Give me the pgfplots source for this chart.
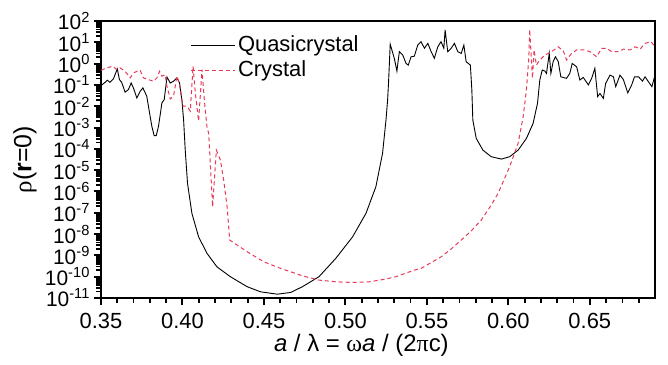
\documentclass[border=0pt]{standalone}
\usepackage{pgfplots}
\pgfplotsset{compat=1.18}
\usepackage{fontspec}
\setmainfont{Liberation Sans}
\newfontfamily\grk{Liberation Serif}
\definecolor{crys}{RGB}{232,58,88}
\gdef\myminor{}
\foreach \e in {-11,...,1}{\foreach \m in {2,...,9}{\xdef\myminor{\myminor\m e\e,}}}
\xdef\myminor{\myminor 9e1}
\begin{document}
\fontsize{11}{13}\selectfont
\begin{tikzpicture}
\begin{axis}[
  scale only axis,
  width=277bp, height=138.5bp,
  xmin=0.35, xmax=0.69,
  ymode=log, ymin=1e-11, ymax=1e2,
  axis line style={line width=1bp},
  tick pos=left,
  tick align=outside,
  xtick={0.35,0.40,0.45,0.50,0.55,0.60,0.65},
  minor xtick={0.36,0.37,0.38,0.39,0.41,0.42,0.43,0.44,0.46,0.47,0.48,0.49,0.51,0.52,0.53,0.54,0.56,0.57,0.58,0.59,0.61,0.62,0.63,0.64,0.66,0.67,0.68},
  minor ytick/.expanded={\myminor},
  major tick length=3.6bp,
  minor tick length=2.3bp,
  every tick/.style={black, line width=1bp},
  every minor tick/.style={black, line width=0.9bp},
  xticklabel style={/pgf/number format/fixed,/pgf/number format/fixed zerofill,/pgf/number format/precision=2,/pgf/number format/assume math mode=true},
  ytick={1e-11,1e-10,1e-9,1e-8,1e-7,1e-6,1e-5,1e-4,1e-3,1e-2,1e-1,1,1e1,1e2},
  yticklabels={10\textsuperscript{-11},10\textsuperscript{-10},10\textsuperscript{-9},10\textsuperscript{-8},10\textsuperscript{-7},10\textsuperscript{-6},10\textsuperscript{-5},10\textsuperscript{-4},10\textsuperscript{-3},10\textsuperscript{-2},10\textsuperscript{-1},10\textsuperscript{0},10\textsuperscript{1},10\textsuperscript{2}},
  yticklabel style={inner xsep=1.5bp, inner ysep=0pt, font=\fontsize{10.5}{11}\selectfont},
  xlabel={\fontsize{12}{14}\selectfont\textit{a} / λ = {\grk ω}\textit{a} / (2{\grk π}c)},
  ylabel={\fontsize{12.5}{14}\selectfont{\grk ρ}(\textbf{r}=0)},
  xlabel style={at={(axis description cs:0.47,-0.17)},anchor=center},
  ylabel style={at={(axis description cs:-0.137,0.5)},anchor=center},
  legend style={at={(0.16,0.96)},anchor=north west,draw=none,fill=none,inner sep=0pt,
    row sep=0pt, nodes={inner sep=1.5bp}},
  legend image code/.code={\draw[#1] (0bp,0bp) -- (22bp,0bp);},
  legend cell align=left,
]
\addplot[black, line width=0.45bp] table {
x y
0.3500 9.33e-2
0.3525 1.32e-1
0.3539 1.66e-1
0.3555 1.32e-1
0.3576 1.91e-1
0.3600 5.62e-1
0.3613 1.78e-1
0.3627 1.32e-1
0.3648 4.57e-2
0.3668 6.03e-2
0.3685 1.23e-1
0.3699 7.24e-2
0.3720 2.45e-2
0.3740 5.01e-2
0.3757 7.24e-2
0.3781 2.95e-2
0.3791 1.0e-2
0.3812 1.15e-3
0.3826 4.17e-4
0.3839 4.17e-4
0.3853 1.15e-3
0.3874 1.45e-2
0.3888 2.04e-2
0.3905 2.34e-1
0.3925 1.23e-1
0.3945 1.48e-1
0.3966 2.14e-1
0.3982 1.23e-1
0.3997 1.78e-2
0.4007 2.24e-3
0.4017 8.71e-5
0.4031 2.40e-6
0.4058 9.33e-8
0.4099 7.41e-9
0.4151 1.23e-9
0.4212 2.88e-10
0.4294 1.0e-10
0.4397 3.39e-11
0.4479 1.95e-11
0.4582 1.51e-11
0.4664 1.82e-11
0.4736 3.39e-11
0.4838 1.0e-10
0.4941 7.24e-10
0.5044 7.41e-9
0.5126 9.33e-8
0.5187 1.66e-6
0.5228 6.17e-5
0.5249 2.24e-3
0.5259 1.95e-2
0.5265 1.41e-1
0.5275 8.13
0.5300 1.78
0.5316 4.47e-1
0.5331 3.63
0.5352 2.51
0.5372 1.02
0.5386 8.51e-1
0.5403 2.09
0.5423 2.24
0.5444 7.41
0.5464 10.7
0.5485 5.25
0.5506 8.91
0.5526 3.63
0.5546 1.78
0.5567 6.17
0.5587 10.7
0.5604 5.25
0.5612 38.0
0.5628 3.63
0.5649 5.25
0.5669 8.91
0.5690 3.63
0.5711 3.02
0.5727 7.41
0.5741 1.23
0.5767 8.51e-1
0.5776 5.75e-2
0.5782 2.24e-3
0.5803 3.09e-4
0.5844 8.71e-5
0.5895 4.27e-5
0.5957 3.31e-5
0.6008 4.27e-5
0.6060 8.71e-5
0.6111 3.09e-4
0.6152 1.58e-3
0.6179 1.38e-2
0.6193 1.70e-1
0.6208 5.01e-1
0.6224 4.47e-1
0.6234 3.47e-1
0.6251 3.02
0.6261 3.47e-1
0.6275 1.26
0.6289 2.09
0.6306 1.26
0.6322 2.40e-1
0.6357 2.04e-1
0.6377 3.47e-1
0.6392 1.02
0.6419 7.08e-1
0.6439 1.70e-1
0.6460 2.24e-1
0.6491 1.0e-1
0.6511 2.00e-1
0.6531 6.03e-1
0.6548 2.82e-2
0.6562 3.98e-2
0.6583 2.34e-2
0.6597 1.17e-1
0.6624 2.88e-1
0.6645 2.40e-1
0.6659 8.32e-2
0.6685 2.88e-1
0.6706 1.78e-1
0.6733 4.27e-2
0.6757 1.0e-1
0.6774 2.40e-1
0.6799 2.40e-1
0.6823 1.51e-1
0.6839 2.40e-1
0.6860 1.41e-1
0.6881 8.32e-2
0.6900 2.88e-1
};
\addlegendentry{Quasicrystal}
\addplot[crys, line width=0.5bp, dash pattern=on 2bp off 1.5bp] table {
x y
0.3500 4.90e-1
0.3535 6.31e-1
0.3572 7.50e-1
0.3597 5.25e-1
0.3617 6.31e-1
0.3648 4.37e-1
0.3679 2.14e-1
0.3699 3.63e-1
0.3720 4.37e-1
0.3740 4.90e-1
0.3760 2.14e-1
0.3791 1.78e-1
0.3822 1.48e-1
0.3843 2.14e-1
0.3859 4.37e-1
0.3874 2.57e-1
0.3894 3.02e-1
0.3905 8.71e-2
0.3925 2.19e-2
0.3945 2.95e-2
0.3966 2.57e-1
0.3982 1.05e-1
0.4003 1.0e-2
0.4028 1.0e-2
0.4048 5.89e-3
0.4065 7.50e-1
0.4079 4.17e-2
0.4099 2.00e-3
0.4120 5.25e-1
0.4134 2.04e-2
0.4151 9.55e-4
0.4161 5.37e-4
0.4185 1.91e-7
0.4208 8.71e-5
0.4233 2.95e-5
0.4253 3.39e-6
0.4274 1.91e-7
0.4290 5.25e-9
0.4305 4.37e-9
0.4397 1.48e-9
0.4499 5.01e-10
0.4602 2.45e-10
0.4664 1.70e-10
0.4736 1.10e-10
0.4838 6.92e-11
0.4941 5.75e-11
0.5044 5.37e-11
0.5146 5.75e-11
0.5249 7.76e-11
0.5310 1.0e-10
0.5423 2.04e-10
0.5464 2.45e-10
0.5587 8.51e-10
0.5649 2.0e-9
0.5711 5.25e-9
0.5772 1.41e-8
0.5834 4.57e-8
0.5895 2.29e-7
0.5937 8.13e-7
0.6008 1.45e-5
0.6060 1.82e-4
0.6091 3.24e-3
0.6111 5.75e-2
0.6126 2.09
0.6131 39.8
0.6148 2.04e-1
0.6158 4.37
0.6172 8.51e-1
0.6193 1.48
0.6224 2.51
0.6265 3.63
0.6306 6.17
0.6337 3.98
0.6357 1.48
0.6388 3.02
0.6419 4.37
0.6470 4.37
0.6501 3.63
0.6542 2.09
0.6573 5.25
0.6603 5.25
0.6634 3.63
0.6675 3.63
0.6706 4.79
0.6747 4.37
0.6778 6.17
0.6809 4.79
0.6839 8.91
0.6876 10.7
0.6900 6.17
};
\addlegendentry{Crystal}
\end{axis}
\pgfresetboundingbox
\path[use as bounding box] ([shift={(-50.5bp,-33.5bp)}]current axis.south west) rectangle ([shift={(6.5bp,10.5bp)}]current axis.north east);
\end{tikzpicture}
\end{document}
